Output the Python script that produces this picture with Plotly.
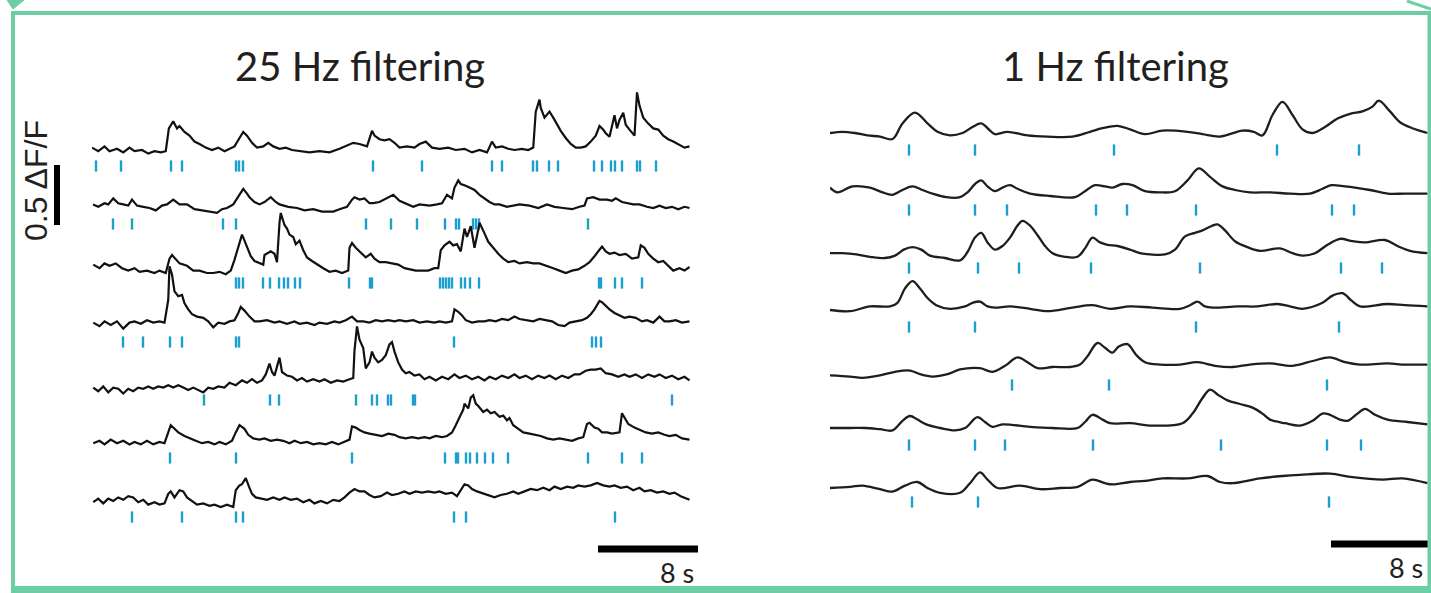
import plotly.graph_objects as go

# ---------------- data (time in s, dF/F relative to each trace baseline) ----------------
L1_t = [0,0.5,1.0,1.4,2.0,2.5,3.0,3.4,4.0,4.5,
        5.0,5.5,5.9,6.15,6.5,6.8,7.0,7.4,7.8,8.2,
        8.6,9.1,9.6,10.1,10.6,11.0,11.4,11.8,12.1,12.4,
        12.8,13.2,13.7,14.1,14.5,15.0,15.5,16.0,16.6,17.4,
        18.2,19.0,19.8,20.4,20.9,21.4,22.0,22.4,22.6,23.0,
        23.4,23.8,24.2,24.6,25.2,25.8,26.2,26.7,27.2,27.8,
        28.5,29.1,29.8,30.4,31.0,31.6,32.0,32.3,32.8,33.3,
        33.8,34.4,34.9,35.3,35.5,35.8,35.9,36.2,36.4,36.6,
        36.9,37.2,37.5,37.9,38.3,38.7,39.1,39.5,39.9,40.3,
        40.6,40.9,41.1,41.4,41.6,41.8,42.0,42.2,42.5,42.7,
        43.0,43.4,43.6,43.8,44.1,44.5,44.9,45.3,45.7,46.1,
        46.5,46.9,47.4,47.8]
L1_v = [0.02,-0.01,0.03,-0.01,0.01,-0.02,0.02,-0.01,0.0,-0.03,
        -0.01,-0.02,-0.01,0.18,0.24,0.18,0.20,0.15,0.12,0.07,
        0.05,0.02,0.0,0.02,-0.01,0.01,0.03,0.10,0.15,0.12,
        0.06,0.02,0.03,0.06,0.03,0.01,0.02,0.0,-0.01,-0.02,
        -0.01,-0.02,0.01,0.04,0.06,0.05,0.03,0.16,0.12,0.09,
        0.08,0.09,0.06,0.02,0.03,0.02,0.05,0.07,0.02,0.01,
        0.02,0.0,0.01,-0.02,0.0,-0.02,0.07,0.02,0.03,0.01,
        0.0,0.01,0.0,0.02,0.32,0.42,0.35,0.27,0.30,0.32,
        0.27,0.21,0.16,0.10,0.05,0.02,0.02,0.03,0.07,0.12,
        0.20,0.17,0.14,0.11,0.21,0.29,0.18,0.25,0.31,0.21,
        0.17,0.12,0.48,0.37,0.27,0.22,0.18,0.17,0.12,0.09,
        0.07,0.05,0.02,0.03]

L2_t = [0.08,0.5,1.0,1.3,1.7,2.1,2.5,2.9,3.2,3.6,
        4.1,4.6,5.1,5.6,6.0,6.5,7.0,7.6,8.2,8.9,
        9.4,10.0,10.4,10.8,11.3,11.7,12.1,12.4,12.6,13.0,
        13.4,13.8,14.3,14.7,15.0,15.7,16.4,17.0,17.7,18.4,
        19.3,19.8,20.4,20.8,21.0,21.4,21.8,22.2,22.5,23.0,
        23.6,24.1,24.6,25.2,25.7,26.2,27.0,27.6,28.0,28.4,
        28.8,29.0,29.3,29.5,29.8,30.2,30.6,31.0,31.4,31.8,
        32.2,32.6,33.2,33.7,34.2,35.0,35.7,36.4,37.0,37.7,
        38.4,39.0,39.4,39.6,40.1,40.6,41.2,41.6,41.9,42.4,
        42.8,43.3,43.8,44.4,44.9,45.4,45.9,46.4,46.9,47.4,
        47.8]
L2_v = [0.03,0.01,0.04,0.03,0.08,0.04,0.03,0.02,0.07,0.02,
        0.01,0.0,-0.02,0.02,0.03,0.07,0.03,0.03,-0.01,-0.02,
        -0.03,-0.04,-0.01,0.0,0.03,0.10,0.16,0.12,0.09,0.05,
        0.03,0.05,0.09,0.05,0.03,0.01,0.0,-0.02,-0.01,-0.03,
        -0.03,-0.01,0.01,0.07,0.09,0.07,0.08,0.04,0.04,0.05,
        0.08,0.11,0.06,0.03,0.01,0.03,0.02,0.03,0.04,0.11,
        0.08,0.17,0.23,0.20,0.19,0.17,0.15,0.11,0.08,0.05,
        0.03,0.03,0.01,0.02,0.03,0.02,0.0,0.03,0.01,0.0,
        -0.01,0.01,0.02,0.08,0.09,0.07,0.07,0.06,0.08,0.05,
        0.04,0.03,0.03,0.01,0.0,0.02,0.0,0.01,-0.01,0.01,
        0.0]

L3_t = [0.1,0.6,1.0,1.4,1.9,2.4,2.9,3.4,3.8,4.4,
        5.0,5.4,5.9,6.2,6.4,6.7,7.0,7.6,8.1,8.6,
        9.2,9.7,10.2,10.7,11.1,11.4,11.8,12.0,12.2,12.5,
        12.7,13.0,13.4,13.7,13.8,14.1,14.3,14.6,14.8,15.0,
        15.1,15.4,15.6,15.8,16.1,16.3,16.6,16.9,17.2,17.6,
        18.0,18.5,19.0,19.5,20.0,20.5,20.6,20.8,21.1,21.5,
        21.9,22.3,22.6,23.0,23.5,24.0,24.5,25.0,25.4,25.9,
        26.4,26.9,27.4,27.7,27.9,28.2,28.6,28.9,29.2,29.5,
        29.8,30.0,30.3,30.6,30.9,31.0,31.4,31.7,32.1,32.5,
        32.9,33.3,33.8,34.2,34.8,35.3,35.8,36.4,36.9,37.4,
        37.9,38.4,38.9,39.4,39.8,40.2,40.6,40.8,41.1,41.4,
        41.8,42.2,42.7,43.2,43.7,43.9,44.2,44.5,44.9,45.3,
        45.7,46.1,46.5,47.0,47.4,47.8]
L3_v = [0.02,-0.01,0.03,0.01,0.03,-0.01,-0.03,-0.01,-0.04,-0.03,
        -0.05,-0.03,-0.05,0.07,0.10,0.06,0.03,0.01,-0.03,-0.03,
        -0.05,-0.05,-0.04,-0.06,-0.03,0.06,0.20,0.27,0.22,0.14,
        0.09,0.05,0.03,0.02,0.10,0.12,0.13,0.11,0.04,0.37,
        0.45,0.35,0.32,0.27,0.25,0.19,0.22,0.14,0.08,0.05,
        0.02,-0.01,-0.04,-0.03,-0.05,-0.03,0.16,0.20,0.16,0.12,
        0.08,0.11,0.07,0.04,0.04,0.03,0.02,-0.01,-0.02,-0.03,
        -0.03,-0.03,-0.01,-0.01,0.14,0.18,0.21,0.18,0.19,0.13,
        0.32,0.25,0.34,0.16,0.31,0.37,0.28,0.21,0.16,0.11,
        0.07,0.04,0.05,0.03,0.04,0.03,0.03,0.01,-0.01,-0.03,
        -0.05,-0.03,-0.02,0.01,0.04,0.09,0.14,0.17,0.13,0.11,
        0.12,0.10,0.11,0.07,0.08,0.18,0.16,0.11,0.07,0.04,
        0.05,0.01,-0.03,-0.01,-0.03,0.0]

L4_t = [0.1,0.6,1.0,1.5,2.0,2.5,3.0,3.4,3.9,4.4,
        4.9,5.4,5.8,6.1,6.2,6.4,6.6,6.9,7.2,7.4,
        7.7,8.0,8.4,8.9,9.3,9.7,10.1,10.6,11.0,11.4,
        11.7,11.9,12.2,12.6,13.0,13.4,14.0,14.6,15.0,15.6,
        16.2,16.6,17.2,17.8,18.2,18.8,19.4,19.8,20.3,20.8,
        21.2,21.7,22.2,22.7,23.2,23.7,24.2,24.6,25.1,25.7,
        26.2,26.8,27.4,27.8,28.3,28.8,29.0,29.3,29.6,29.9,
        30.4,30.9,31.4,31.8,32.3,32.8,33.3,33.8,34.2,34.7,
        35.3,35.8,36.3,36.8,37.3,37.8,38.2,38.7,39.2,39.6,
        39.9,40.2,40.6,40.8,41.1,41.4,41.8,42.2,42.6,43.0,
        43.5,44.0,44.4,44.9,45.4,45.8,46.2,46.7,47.2,47.8]
L4_v = [0.02,-0.01,0.03,0.0,0.03,-0.03,0.02,0.03,0.01,0.04,
        0.02,0.03,0.02,0.21,0.49,0.42,0.28,0.24,0.25,0.18,
        0.13,0.09,0.07,0.06,0.03,-0.02,0.02,0.01,0.03,0.04,
        0.10,0.15,0.12,0.07,0.03,0.03,0.04,0.02,0.03,0.01,
        0.03,0.01,0.02,0.0,0.02,0.01,0.03,0.02,0.04,0.07,
        0.03,0.03,0.02,0.04,0.03,0.04,0.03,0.04,0.03,0.04,
        0.02,0.03,0.02,0.03,0.02,0.03,0.13,0.11,0.08,0.04,
        0.02,0.03,0.03,0.04,0.03,0.05,0.04,0.07,0.05,0.04,
        0.03,0.05,0.04,0.03,0.0,-0.01,0.02,0.03,0.04,0.06,
        0.09,0.13,0.20,0.19,0.16,0.13,0.10,0.08,0.06,0.07,
        0.06,0.03,0.04,0.02,0.07,0.03,0.03,0.04,0.02,0.03]

L5_t = [0.1,0.5,0.9,1.3,1.7,2.1,2.5,2.9,3.3,3.7,
        4.1,4.5,4.9,5.3,5.7,6.1,6.5,6.9,7.3,7.7,
        8.1,8.5,8.9,9.3,9.7,10.1,10.6,11.0,11.5,12.0,
        12.4,12.8,13.2,13.6,13.9,14.2,14.4,14.6,14.9,15.0,
        15.2,15.6,16.0,16.4,16.8,17.2,17.7,18.2,18.6,19.1,
        19.6,20.1,20.6,20.9,21.0,21.2,21.4,21.7,21.9,22.2,
        22.4,22.6,22.9,23.2,23.5,23.8,24.0,24.2,24.5,24.8,
        25.1,25.4,25.8,26.2,26.6,27.0,27.5,28.0,28.5,29.0,
        29.4,29.9,30.4,30.9,31.4,31.8,32.3,32.8,33.3,33.8,
        34.2,34.7,35.2,35.7,36.2,36.6,37.1,37.6,38.1,38.6,
        39.0,39.5,39.9,40.3,40.7,41.1,41.6,42.1,42.6,43.0,
        43.5,44.0,44.5,45.0,45.4,45.9,46.4,46.9,47.4,47.8]
L5_v = [-0.03,-0.06,-0.02,-0.07,-0.03,-0.04,-0.08,-0.04,-0.06,-0.03,
        -0.04,-0.02,-0.04,-0.02,-0.03,-0.01,-0.03,-0.01,-0.03,-0.05,
        -0.03,-0.05,-0.07,-0.03,-0.04,-0.02,-0.03,0.01,-0.01,0.03,
        0.01,0.04,0.01,0.03,0.08,0.17,0.10,0.07,0.20,0.22,
        0.10,0.07,0.06,0.03,0.05,0.02,0.04,0.02,0.04,0.01,
        0.03,0.02,0.04,0.05,0.28,0.48,0.37,0.30,0.13,0.18,
        0.27,0.22,0.18,0.20,0.24,0.33,0.35,0.27,0.18,0.12,
        0.09,0.10,0.07,0.08,0.04,0.06,0.03,0.06,0.04,0.08,
        0.05,0.07,0.04,0.06,0.03,0.06,0.04,0.07,0.05,0.08,
        0.05,0.07,0.04,0.07,0.05,0.07,0.04,0.07,0.05,0.08,
        0.08,0.11,0.12,0.12,0.13,0.09,0.08,0.06,0.08,0.06,
        0.08,0.05,0.08,0.06,0.08,0.05,0.07,0.04,0.06,0.03]

L6_t = [0.1,0.6,1.0,1.5,2.0,2.5,3.0,3.4,3.9,4.4,
        4.9,5.4,5.8,6.1,6.3,6.6,6.9,7.4,7.8,8.3,
        8.8,9.3,9.8,10.2,10.7,11.2,11.5,11.8,12.2,12.5,
        12.9,13.4,13.8,14.3,14.8,15.3,15.8,16.2,16.7,17.2,
        17.7,18.2,18.7,19.2,19.7,20.2,20.6,20.8,21.1,21.4,
        21.8,22.2,22.7,23.2,23.7,24.2,24.6,25.1,25.6,26.1,
        26.6,27.0,27.5,28.0,28.4,28.8,29.1,29.4,29.7,29.8,
        30.1,30.3,30.5,30.7,30.9,31.3,31.6,31.9,32.2,32.6,
        32.9,33.2,33.4,33.7,34.1,34.5,35.0,35.4,35.9,36.4,
        36.9,37.4,37.9,38.4,38.9,39.3,39.6,39.8,40.2,40.5,
        40.8,41.2,41.6,42.0,42.2,42.4,42.6,42.9,43.4,43.8,
        44.3,44.8,45.3,45.8,46.2,46.7,47.2,47.8]
L6_v = [-0.01,0.01,-0.02,0.02,-0.01,0.01,-0.02,0.0,-0.02,0.01,
        -0.02,0.0,-0.01,0.08,0.14,0.11,0.08,0.05,0.03,0.01,
        -0.01,0.0,-0.02,0.0,-0.02,0.01,0.08,0.14,0.11,0.06,
        0.03,0.02,0.03,0.01,0.02,0.01,-0.01,0.01,-0.01,0.0,
        -0.02,-0.01,-0.02,0.0,-0.02,0.0,0.02,0.13,0.12,0.10,
        0.08,0.07,0.06,0.05,0.07,0.06,0.04,0.03,0.04,0.03,
        0.04,0.03,0.05,0.04,0.05,0.08,0.14,0.20,0.27,0.32,
        0.28,0.37,0.39,0.32,0.30,0.25,0.27,0.24,0.25,0.21,
        0.22,0.18,0.20,0.14,0.11,0.08,0.07,0.06,0.05,0.03,
        0.02,0.03,0.02,0.01,0.03,0.04,0.15,0.16,0.12,0.11,
        0.08,0.08,0.07,0.08,0.08,0.24,0.20,0.15,0.12,0.10,
        0.08,0.07,0.08,0.06,0.05,0.06,0.03,0.02]

L7_t = [0.1,0.5,0.9,1.3,1.7,2.1,2.5,2.9,3.3,3.7,
        4.1,4.5,5.0,5.4,5.8,6.1,6.3,6.6,7.0,7.3,
        7.6,8.0,8.4,8.9,9.4,9.8,10.3,10.8,11.3,11.5,
        11.8,12.0,12.3,12.6,12.8,13.1,13.5,14.0,14.5,15.0,
        15.4,15.9,16.4,16.9,17.4,17.8,18.3,18.8,19.3,19.8,
        20.2,20.6,21.0,21.4,21.8,22.2,22.6,23.1,23.6,24.0,
        24.5,25.0,25.4,25.9,26.4,26.9,27.4,27.8,28.3,28.8,
        29.2,29.5,29.8,30.1,30.4,30.8,31.3,31.8,32.2,32.7,
        33.2,33.7,34.1,34.6,35.1,35.6,36.1,36.6,37.0,37.5,
        38.0,38.5,38.9,39.4,39.9,40.4,40.9,41.4,41.8,42.3,
        42.8,43.3,43.8,44.2,44.7,45.2,45.7,46.2,46.6,47.1,
        47.6,47.8]
L7_v = [-0.01,0.02,-0.02,0.02,0.0,0.03,0.01,0.04,0.03,-0.01,
        0.01,-0.03,-0.01,-0.03,-0.02,0.06,0.08,0.03,0.09,0.08,
        0.03,0.0,-0.03,-0.02,-0.04,-0.03,-0.05,-0.03,-0.05,0.09,
        0.13,0.14,0.19,0.11,0.06,0.03,0.02,0.01,0.03,0.01,
        0.03,0.01,0.02,-0.01,0.01,-0.02,0.0,-0.02,0.01,0.0,
        0.03,0.07,0.10,0.08,0.08,0.05,0.03,0.04,0.07,0.05,
        0.06,0.08,0.06,0.08,0.07,0.08,0.07,0.08,0.06,0.07,
        0.04,0.09,0.14,0.13,0.10,0.08,0.06,0.04,0.03,0.05,
        0.06,0.08,0.06,0.08,0.10,0.09,0.11,0.09,0.12,0.10,
        0.12,0.11,0.13,0.12,0.13,0.15,0.13,0.12,0.13,0.11,
        0.12,0.09,0.11,0.08,0.09,0.07,0.08,0.06,0.07,0.04,
        0.02,0.01]

R1_t = [0,1.0,2.0,3.0,4.0,5.0,5.8,6.8,7.8,8.6,
        9.6,10.6,11.4,12.1,12.8,13.2,14.2,15.8,17.4,19.4,
        20.8,21.8,23.0,24.0,25.2,26.6,28.6,29.8,31.2,33.0,
        33.9,34.6,35.4,36.2,37.0,37.8,38.6,39.6,40.6,41.6,
        42.6,43.4,43.9,44.8,45.6,46.6,47.8]
R1_v = [0.0,0.01,0.0,-0.02,-0.03,-0.05,0.08,0.17,0.08,0.01,
        -0.02,0.0,0.05,0.08,0.02,-0.01,0.01,-0.02,-0.03,-0.03,
        0.01,0.04,0.06,0.03,-0.01,0.02,0.01,-0.01,-0.03,0.02,
        0.01,-0.02,0.15,0.26,0.15,0.03,0.0,0.05,0.12,0.16,
        0.18,0.22,0.27,0.18,0.09,0.04,0.0]

R2_t = [0.0,0.6,1.8,3.2,4.2,5.0,5.8,6.6,7.4,8.2,
        9.3,10.4,11.0,11.6,12.1,12.6,13.2,13.8,14.4,15.0,
        16.0,17.6,19.6,20.4,21.2,22.0,22.6,23.4,24.2,25.2,
        26.4,27.6,28.6,29.5,30.4,31.4,32.4,33.6,35.2,36.8,
        38.4,39.4,40.1,41.2,42.0,43.2,44.6,46.0,47.8]
R2_v = [0.02,-0.02,0.03,0.02,-0.02,-0.04,0.0,0.03,0.0,-0.03,
        -0.06,-0.06,-0.02,0.05,0.08,0.03,-0.01,0.02,0.04,0.01,
        -0.03,-0.05,-0.06,-0.01,0.04,0.03,0.02,0.05,0.04,-0.01,
        -0.02,-0.01,0.08,0.18,0.11,0.03,0.0,-0.02,-0.02,-0.03,
        -0.03,0.01,0.04,0.03,0.02,0.0,-0.03,-0.03,-0.03]

R3_t = [0.0,1.0,2.1,3.2,4.4,5.2,5.9,6.6,7.3,8.0,
        9.2,10.4,11.0,11.6,12.1,12.6,13.2,13.8,14.4,15.0,
        15.4,16.0,16.6,17.2,17.8,18.8,19.8,20.4,21.0,21.6,
        22.2,23.0,24.0,24.8,25.6,26.8,27.6,28.4,29.2,29.8,
        30.6,31.0,31.6,32.4,33.4,34.4,36.0,37.0,37.8,38.8,
        39.8,40.8,41.8,42.8,44.4,45.4,46.4,47.8]
R3_v = [-0.01,-0.01,-0.02,-0.04,-0.05,-0.03,0.02,0.04,0.02,-0.03,
        -0.05,-0.07,0.0,0.12,0.16,0.08,0.02,0.05,0.12,0.22,
        0.26,0.22,0.14,0.05,-0.01,-0.04,-0.04,0.03,0.12,0.08,
        0.06,0.05,0.02,-0.01,-0.02,-0.02,0.02,0.13,0.16,0.18,
        0.22,0.23,0.18,0.09,0.04,0.01,0.03,-0.01,-0.03,-0.01,
        0.06,0.11,0.09,0.08,0.10,0.05,0.01,-0.01]

R4_t = [0.0,1.6,3.2,4.8,5.4,6.0,6.6,7.2,7.8,8.5,
        9.6,10.8,11.4,12.0,12.6,13.2,14.4,16.0,17.4,19.4,
        21.0,22.4,24.0,25.8,28.0,28.8,29.4,30.0,30.6,32.6,
        34.2,35.8,36.8,37.8,39.4,40.2,41.0,41.7,42.4,44.6,
        46.0,47.8]
R4_v = [0.0,-0.01,0.03,0.03,0.06,0.18,0.24,0.18,0.10,0.04,
        0.01,0.03,0.06,0.07,0.03,0.02,0.03,0.01,-0.01,0.02,
        0.04,0.01,0.03,0.02,0.01,0.04,0.07,0.03,0.02,0.03,
        0.03,0.05,0.03,0.01,0.06,0.12,0.14,0.08,0.03,0.05,
        0.04,0.03]

R5_t = [0.0,1.6,2.6,4.0,5.2,6.4,7.2,8.2,9.4,10.4,
        12.0,13.0,14.0,15.0,15.8,16.6,17.8,19.2,20.0,20.6,
        21.4,22.0,22.6,23.1,23.8,24.5,25.2,26.4,28.0,29.4,
        30.8,32.2,33.6,35.2,37.0,38.6,40.0,41.2,42.4,44.6,
        46.0,47.8]
R5_v = [-0.02,-0.03,-0.04,-0.02,0.01,0.02,-0.01,-0.03,-0.01,0.03,
        0.04,0.01,0.06,0.13,0.09,0.04,0.05,0.05,0.07,0.14,
        0.25,0.21,0.17,0.22,0.24,0.15,0.09,0.07,0.07,0.09,
        0.06,0.05,0.07,0.08,0.06,0.10,0.13,0.09,0.07,0.08,
        0.07,0.07]

R6_t = [0.0,1.6,2.8,4.0,5.0,5.8,6.4,7.0,7.7,8.8,
        10.0,10.8,11.8,12.4,13.0,13.8,16.0,17.8,19.8,20.4,
        21.0,21.8,22.4,24.0,25.8,28.2,29.0,29.8,30.4,31.0,
        31.8,32.8,33.8,34.6,35.2,36.4,37.6,38.6,39.4,40.0,
        40.8,41.4,42.2,42.8,43.6,44.6,46.2,47.8]
R6_v = [0.0,0.0,0.0,-0.01,-0.02,0.06,0.10,0.07,0.03,0.0,
        -0.02,0.0,0.09,0.05,0.01,0.03,0.01,0.0,0.0,0.05,
        0.11,0.07,0.04,0.04,0.02,0.04,0.12,0.25,0.32,0.28,
        0.23,0.20,0.17,0.12,0.07,0.04,0.02,0.06,0.12,0.11,
        0.07,0.06,0.12,0.16,0.11,0.07,0.05,0.03]

R7_t = [0.0,1.6,2.6,4.0,5.0,6.0,7.0,7.8,8.8,10.4,
        11.2,12.0,12.6,13.4,15.2,16.8,18.4,19.8,21.0,22.0,
        22.6,24.0,25.2,26.6,28.6,30.2,31.2,32.2,34.4,36.2,
        37.6,40.0,41.8,44.2,45.8,47.8]
R7_v = [0.0,0.01,0.02,-0.01,-0.03,0.02,0.05,0.0,-0.04,-0.04,
        0.04,0.13,0.07,0.0,0.02,-0.01,0.0,0.01,0.07,0.04,
        0.03,0.05,0.06,0.08,0.08,0.10,0.05,0.04,0.08,0.10,
        0.11,0.12,0.09,0.07,0.08,0.04]

# spike times (s)
L1_spk = [0.32,2.32,6.32,7.2,11.52,11.76,12.08,22.48,26.4,32.0,32.8,35.28,35.6,36.56,
          37.28,40.16,40.8,41.52,41.84,42.4,43.6,43.84,45.12]
L2_spk = [1.68,3.2,10.48,11.52,21.92,23.92,26.0,28.24,29.12,29.36,30.48,30.72,30.96,39.68]
L3_spk = [11.52,11.76,12.08,13.68,14.24,14.96,15.36,15.68,16.24,16.64,20.56,22.24,22.4,
          27.84,28.08,28.32,28.56,28.8,29.52,29.84,30.24,30.96,40.56,40.72,41.84,42.4,44.0]
L4_spk = [2.48,4.08,6.24,7.2,11.52,11.76,28.96,40.0,40.32,40.72]
L5_spk = [8.96,14.24,14.96,21.12,22.4,22.8,23.68,23.92,25.68,25.84,46.4]
L6_spk = [6.24,11.52,20.8,28.24,29.12,29.28,29.92,30.24,30.8,31.44,32.08,33.28,39.68,42.4,44.0]
L7_spk = [3.2,7.2,11.52,12.08,28.96,29.92,41.84]

R1_spk = [6.32,11.6,22.72,35.76,42.32]
R2_spk = [6.32,11.6,14.16,21.28,23.76,29.28,40.16,41.92]
R3_spk = [6.32,11.84,15.12,20.88,29.6,40.88,44.16]
R4_spk = [6.32,11.6,29.28,40.72]
R5_spk = [14.56,22.32,39.76]
R6_spk = [6.32,11.6,14.0,21.04,31.28,39.76,42.48]
R7_spk = [6.56,11.84,39.92]

titles = ["25 Hz filtering", "1 Hz filtering"]
scale_time_s = 8
scale_dff = 0.5

# ---------------- layout geometry ----------------
W, H = 1431, 593
PXU = 120.0                       # pixels per 1 dF/F
L_base = [150, 208, 267, 325, 384, 442, 501]
L_tick = [166, 224, 283, 342, 400, 458, 517]
R_base = [133, 190, 252, 310, 373, 428, 488]
R_tick = [150, 210, 268, 327, 385, 445, 502]
SPIKE = "#1b9fd0"
GREEN = "#6dcea6"

left = [(L1_t, L1_v, L1_spk), (L2_t, L2_v, L2_spk), (L3_t, L3_v, L3_spk), (L4_t, L4_v, L4_spk),
        (L5_t, L5_v, L5_spk), (L6_t, L6_v, L6_spk), (L7_t, L7_v, L7_spk)]
right = [(R1_t, R1_v, R1_spk), (R2_t, R2_v, R2_spk), (R3_t, R3_v, R3_spk), (R4_t, R4_v, R4_spk),
         (R5_t, R5_v, R5_spk), (R6_t, R6_v, R6_spk), (R7_t, R7_v, R7_spk)]

fig = go.Figure()

def add_panel(traces, bases, ticks, xa, shape, lw, col):
    for (t, v, spk), b, tk in zip(traces, bases, ticks):
        n = min(len(t), len(v))
        off = -b / PXU
        fig.add_trace(go.Scatter(x=t[:n], y=[val + off for val in v[:n]], mode="lines",
                                 line=dict(color=col, width=lw, shape=shape, smoothing=1.0),
                                 xaxis=xa, yaxis="y", hoverinfo="skip"))
        fig.add_trace(go.Scatter(x=spk, y=[-tk / PXU] * len(spk), mode="markers",
                                 marker=dict(symbol="line-ns", size=8,
                                             line=dict(color=SPIKE, width=2.4)),
                                 xaxis=xa, yaxis="y", hoverinfo="skip"))

add_panel(left, L_base, L_tick, "x", "linear", 2.2, "#111111")
add_panel(right, R_base, R_tick, "x2", "spline", 2.3, "#1e1e1e")

# scale bars
fig.add_trace(go.Scatter(x=[48.48 - scale_time_s, 48.48], y=[-549 / PXU] * 2, mode="lines",
                         line=dict(color="black", width=7), xaxis="x", yaxis="y", hoverinfo="skip"))
fig.add_trace(go.Scatter(x=[48.08 - scale_time_s, 48.08], y=[-544 / PXU] * 2, mode="lines",
                         line=dict(color="black", width=7), xaxis="x2", yaxis="y", hoverinfo="skip"))

shapes = []
shapes.append(dict(type="line", xref="paper", yref="y", x0=57 / W, x1=57 / W,
                   y0=-165 / PXU, y1=-165 / PXU - scale_dff, line=dict(color="black", width=6)))

def px(x, y):
    return x / W, 1 - y / H

def gline(x0, y0, x1, y1, w):
    a, b = px(x0, y0)
    c, d = px(x1, y1)
    shapes.append(dict(type="line", xref="paper", yref="paper", x0=a, y0=b, x1=c, y1=d,
                       line=dict(color=GREEN, width=w), layer="above"))

gline(11, 13, 1431, 13, 4)
gline(13, 11, 13, 593, 4)
gline(11, 589.5, 1431, 589.5, 7)
gline(1429.5, 11, 1429.5, 593, 4)
gline(1407, 1, 1431, 9, 3)
p = [px(7, 0), px(24, 0), px(13, 9)]
shapes.append(dict(type="path", xref="paper", yref="paper",
                   path="M %f,%f L %f,%f L %f,%f Z" % (p[0][0], p[0][1], p[1][0], p[1][1], p[2][0], p[2][1]),
                   fillcolor=GREEN, line=dict(color=GREEN, width=1)))

TXT = "#231f20"
ann = []
ann.append(dict(text=titles[0], x=360 / W, y=1 - 66 / H, xref="paper", yref="paper",
                showarrow=False, xanchor="center", yanchor="middle",
                font=dict(family="Lato", size=40, color=TXT)))
ann.append(dict(text=titles[1], x=1115 / W, y=1 - 66 / H, xref="paper", yref="paper",
                showarrow=False, xanchor="center", yanchor="middle",
                font=dict(family="Lato", size=40, color=TXT)))
ann.append(dict(text="%s ΔF/F" % scale_dff, x=36 / W, y=1 - 181 / H, xref="paper", yref="paper",
                showarrow=False, textangle=-90, xanchor="center", yanchor="middle",
                font=dict(family="Liberation Sans", size=32, color=TXT)))
ann.append(dict(text="%d s" % scale_time_s, x=677 / W, y=1 - 572 / H, xref="paper", yref="paper",
                showarrow=False, xanchor="center", yanchor="middle",
                font=dict(family="Lato", size=27, color=TXT)))
ann.append(dict(text="%d s" % scale_time_s, x=1406 / W, y=1 - 567 / H, xref="paper", yref="paper",
                showarrow=False, xanchor="center", yanchor="middle",
                font=dict(family="Lato", size=27, color=TXT)))

fig.update_layout(
    width=W, height=H, margin=dict(l=0, r=0, t=0, b=0),
    paper_bgcolor="white", plot_bgcolor="white", showlegend=False,
    xaxis=dict(domain=[92 / W, 698 / W], range=[0, 48.48], visible=False, fixedrange=True),
    xaxis2=dict(domain=[830 / W, 1431 / W], range=[0, 48.08], visible=False, anchor="y", fixedrange=True),
    yaxis=dict(domain=[0, 1], range=[-H / PXU, 0], visible=False, fixedrange=True),
    shapes=shapes, annotations=ann,
)

fig.write_html("out.html", config={"displayModeBar": False},
               post_script="document.body.style.margin='0';document.body.style.padding='0';document.body.style.overflow='hidden';")
